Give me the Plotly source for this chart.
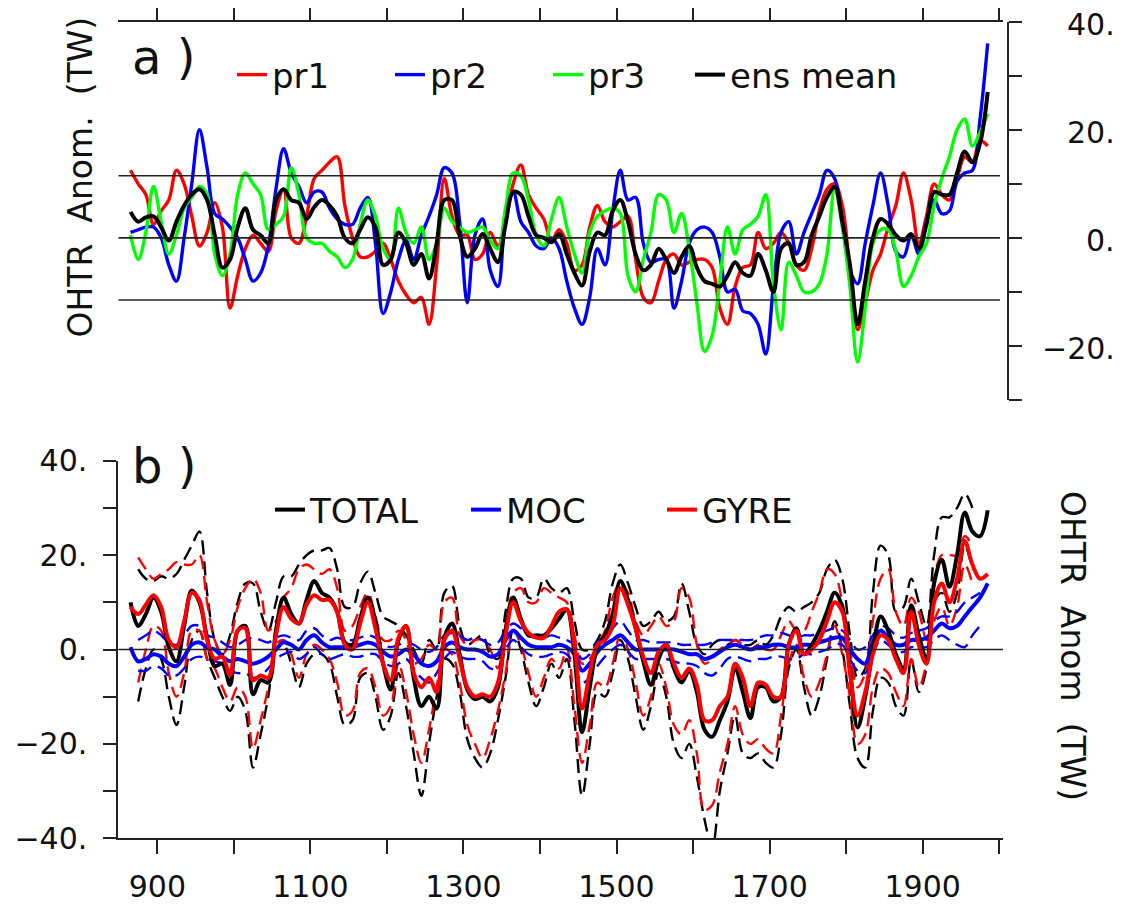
import plotly.graph_objects as go

# decadal sample years shared by all series
years = list(range(865, 1986, 10))

# ---- panel a: OHTR anomaly (TW) of the three runs and ensemble mean
pr1 = [12.5, 10, 8, 2.5, 5, 7, 12.5, 10, 4, -1.5,
       1, 6.5, 2, -13, -7, -2, 0.5, -1, -2.5, 5,
       9, 0, -1, 4, 11, 12.5, 14, 15, 6, 0,
       -3.5, -3.5, -2.5, -1, -4, -8, -10.5, -12, -11, -16,
       -5, 11, 4, 0.5, 0.5, -4, -3, 1, -1.5, 3,
       10, 13.5, 8, 5.5, 3.5, -0.5, 1.5, -1, -6, -5,
       2, 6, 3, 2, 3, 4, -4, -11, -12, -8,
       -4, -3, -5, -4.5, -4, -4, -5.5, -13, -16, -9,
       -5.5, -5, 1, -2, -1, 1, -1, -5, -6, -2,
       5, 9, 10, 6, -6, -17, -12, -6, -3, 2,
       6, 12, 7, -1, 4, 10, 8, 7, 11, 15,
       14, 18, 17]
pr2 = [1, 1.5, 2, 2, 0, -5, -8, 0, 10, 20,
       13, 4.5, 3.5, 2, 0, -4, -8, -6.5, -1.5, 9,
       16.5, 12, 9.5, 6.5, 8.5, 8.5, 5.5, 3.5, 2.5, 2.5,
       5.5, 7.5, -1, -14, -10, -4, -0.5, -4, 0.5, 4,
       8, 13, 12, 3, -12, 0.5, 3.5, -6, -9, 4,
       8.5, 3, 1, -1.5, -2, 0, -2, -8, -13, -16,
       -11, -2, -5, 5, 12.5, 7, 7.5, -1, -4.5, -4,
       -4, -13, -8, -1, 1.5, 2, 1, -3.5, -10, -9.5,
       -13.5, -14, -16, -21.5, -9, 1, 3, -3, 1, 4.5,
       8, 12.5, 11, 3, -6, -8.5, -1, 6, 12, 6,
       -2.5, -3.5, 0.5, -3, 3, 7, 4.5, 5, 10.5, 12,
       12.5, 22, 36]
pr3 = [0.5, -4, 1, 9.5, 3, -3, 0.5, 5.5, 7.5, 9.5,
       8, -3, -7, -3, 8, 12, 10, 8, 1.5, 2.5,
       4, 13, 8, 0, -1, -1, -2.5, -3.5, -5.5, -4,
       2.5, 7, 4, -2, -4, 5.5, 1, -1, 2, -4,
       -1, 5.5, 3, 2, 1, 1.5, 2, -0.5, -2, 5.5,
       12, 11.5, 7, 0.5, -1.5, 3.5, 7.5, 2, -3, -6.5,
       1, 4, 5, 5.5, 4.5, -7, -10, -4, 1, 8,
       7, 1, 4.5, -2, -12, -21, -18, -8, 2, -3,
       1.5, 2.5, 4, 8, -8.5, -17, -4.5, -7, -10, -10,
       -8.5, -3, 9, 2, -9, -23, -13, -1, 1.5, 1.5,
       -2.5, -9, -7, -3.5, -1, 6, 11, 15, 20, 22,
       17, 19.5, 23]
ens_mean = [4.8, 3, 3.8, 4, 2, -0.5, 3, 6, 8, 9,
            7, 0.5, -5.5, -4, 2, 5.5, 1.5, 0.5, -1, 7,
            9, 7, 6.5, 3.5, 5.7, 7, 6, 4, 0, -1,
            1.5, 3.8, 2, -5, -4, 1, -1, -5, -3, -7.5,
            -1, 7, 7, 0.5, -3.5, -2, 0.7, -2, -4.5, 2.5,
            8.5, 8, 4, 0.5, 0, -0.8, 0.7, -3, -6.5, -8.8,
            -2.5, 1, 0.5, 5, 7, 3, -3, -6, -5, -2,
            -4, -6.5, -3.5, -1.5, -5.5, -8, -8.5, -9, -7, -4.5,
            -6.5, -7, -3, -6, -10, -2, -1, -5, -4.5, 0.5,
            4, 7.5, 9.4, 3, -5, -16, -8, 0, 3.5, 2.5,
            0.5, -0.5, 0.7, -2, 2.5, 8.5, 8, 8, 12, 16,
            14, 17.5, 27]

# ---- panel b: TOTAL / MOC / GYRE components with their spread
total = [10, 5, 7.5, 11, 8, 0.5, -2.5, 5, 12.5, 10,
         2.5, -3.5, -3, -7.5, 4, 5, -9.5, -6.5, -7, 4,
         11, 7.5, 5.5, 10.5, 14.5, 12, 11, 8, 1.5, 1,
         6.5, 11, 6, -3, -8.5, 2, 5, -6, -12, -10,
         -12.5, 2.5, 5.5, -1, -8.5, -10.5, -10, -11, -8, 4,
         11, 6.5, 3, 3, 3, 4.5, 6.5, 8.5, -1, -17.5,
         -8, 0.5, 3, 7.5, 14.5, 10.5, 4.5, -2.5, -7.5, -2,
         1, -4, -7, -4.5, -9, -17, -18.5, -15, -11, -4,
         -9, -14.5, -8, -8, -11, -10, 1, 4.5, -1, 1,
         4, 8, 12, 9, -4, -16.5, -10, 0, 7, 4,
         -1, -4, 9.4, 3, -2, 14, 19, 13.3, 20, 29,
         25, 24, 29.5]
total_hi = [None, 17, 15, 14.5, 15.5, 15, 16, 19, 22, 25,
            12, 2, -1, 3, 10, 14, 14, 8, 4, 10,
            15.5, 15.5, 18, 20, 21, 21, 21.5, 17, 9, 9,
            14, 16.5, 12, 7, 6, 5, 3, 0, -3, 2,
            0, 12, 13.5, 5, 1, 2, 3, -1, -2, 8,
            15, 15, 11, 11, 15, 13, 12, 13, 6, 0,
            0, 2, 6, 14, 18, 14, 9, 5, 6, 8,
            6, 7, 14, 8, 1, -1, 1, 2, 1, 2,
            1, 1, 2, 1, 3, 7, 9, 8, 9, 10,
            12, 17, 19, 15, 3, -6, -4, 12, 22, 20,
            8, 9, 15, 10, 5, 20, 28, 28, 30, 33,
            30, None, None]
total_lo = [None, -11, -4, 0, -2, -10, -16, -8, 2, 4,
            -2, -6, -10, -13, -10, -13, -25, -18, -10, 0,
            1, -3, -8, -3, -1, -1, -3, -10, -16, -15,
            -6, -5, -10, -17, -14, -5, -12, -22, -31, -20,
            -10, -2, -3, -9, -19, -23, -25, -22, -15, -6,
            4, 0, -7, -12, -8, -3, -6, -2, -15, -31,
            -20, -9, -10, -5, 2, -2, -10, -17, -12, -5,
            -10, -20, -23, -20, -27, -36, -42, -30, -22, -14,
            -22, -23, -22, -24, -25, -18, -4, 0, -8, -14,
            -10, -2, 6, 0, -12, -23, -25, -13, -6, -7,
            -12, -14, -2, -9, -4, 10, 12, 8, 12, 22,
            17, None, None]
moc = [0.5, -2.5, -2, -1, -1.5, -3, -3.5, -1.5, 1, 1.5,
       0.5, 0, -1.5, -2.5, -2, -2.5, -3, -2.5, -1.5, 0,
       1.5, 1, 0, 2, 3, 1.5, 0.5, 0.5, 0.5, 0.5,
       1, 1.5, 1, -0.5, -1.5, -1, 0, -1, -3, -3.5,
       -2.5, 0.5, 1.5, 0.5, 0, 0, -0.5, -1.5, -1, 2,
       4, 2.5, 1, 0.5, 0.5, 0.5, 1, 0.5, -1, -4.5,
       -3, -0.5, 1, 2, 3, 1.5, 0, 0, 0, 0,
       0, 0, -0.5, -1, -1, -2, -1.5, -0.5, 0.5, 1,
       0.5, 0, 0.5, 0.5, 1, 1, 0.5, 0.5, 1, 1,
       1.5, 2, 2.5, 2.5, 0, -2, -3, 1.5, 4, 2.5,
       1, 1, 2, 2, 2.5, 4, 5.5, 4.5, 5, 7,
       9, 11, 14]
moc_hi = [None, 2, 3, 4, 3, 1.5, 1, 3, 5, 5,
          3, 2.5, 1.5, 0.5, 1, 2, 2.5, 2, 1.5, 2.5,
          3, 2.5, 2, 4, 4.5, 3, 2, 2.5, 2, 2,
          2.5, 3, 2.5, 1, 0.5, 1, 1.5, 1, 0, -0.5,
          0.5, 3, 3.5, 3, 2, 2.5, 2, 1, 1.5, 4,
          5.5, 4.5, 3, 2.5, 2.5, 3, 2.5, 2, 1, -2,
          -1, 1.5, 3, 4.5, 6, 4, 2, 2, 1.5, 1.5,
          1.5, 1.5, 1, 1, 1, 1, 1.5, 2, 2, 2,
          2, 2, 2.5, 3, 3, 3.5, 3, 2.5, 3, 3,
          3.5, 4, 4.5, 4, 2, 0, 0.5, 3, 5, 4.5,
          3, 2.5, 3.5, 4, 4.5, 6, 7, 7, 8, 10,
          11, 12, None]
moc_lo = [None, -4.5, -4.5, -3.5, -4, -5.5, -5.5, -4, -2, -1.5,
          -2, -2.5, -3, -4.5, -5, -5, -6, -5.5, -4, -2,
          -1, -0.5, -2, -1, 0.5, -1, -2, -1.5, -1, -1.5,
          -1.5, -1, -1, -2.5, -3.5, -3, -2, -4, -6, -7,
          -5, -2, -0.5, -1.5, -2, -2, -2.5, -4, -4, 0,
          2, 0.5, -1, -1.5, -1.5, -1, -0.5, -1, -3.5, -7,
          -6, -3.5, -1.5, 0, 1, -0.5, -2, -2, -2, -2,
          -2, -2.5, -3, -3, -3.5, -5, -5.5, -4, -2, -1.5,
          -2, -2.5, -2, -2, -1.5, -1.5, -2, -2, -1, -1,
          -0.5, 0, 1, 1, -2, -4.5, -5, -1, 2, 1,
          -0.5, -0.5, 0.5, 0.5, 0.5, 2, 3, 2, 1, 0.5,
          3, 5, None]
gyre = [9, 7.5, 9.5, 11.5, 9, 2, 0.5, 6, 12, 10.5,
        2, -2, -1.5, -5.5, 4, 4.5, -6.5, -5.5, -6, 3,
        9, 6.5, 5.5, 9.5, 11.5, 10.5, 10.5, 8, 1, 0,
        5.5, 10, 4.5, -3, -6.5, 2.5, 5, -5, -8, -6,
        -9, 2, 4, -2, -8, -10, -9.5, -10, -7, 3,
        10, 6, 3.5, 2.5, 2.5, 5, 8, 8.5, 1, -12.5,
        -5, 1, 2, 5, 13, 9.5, 4.5, -1.5, -5, -0.5,
        1, -3, -6, -4, -7.5, -15, -15, -12, -10, -3,
        -6, -12, -7, -7.5, -10, -10, 1, 4, -1, 0,
        2, 6, 10, 8, -5, -14, -9, -1, 3, 2,
        -2, -5, 8, 1, -3, 10, 14, 10, 15, 23,
        18, 15, 16]
gyre_hi = [None, 19.5, 17, 15, 16, 17, 18.5, 18, 18, 20,
           10, 2, -1, 2, 9, 13, 15, 12, 4, 6,
           11, 13, 17, 18, 17, 16, 17, 13, 4, 5,
           9, 12, 7, 2, 2, 4, 2, -3, -2, 1,
           0, 10, 11, 3, 1, 2, 2, 0, -4, 5,
           12, 13, 10, 10, 13, 12, 11, 10, 3, -3,
           -2, 1, 4, 11, 14, 12, 6, 3, 5, 7,
           5, 6, 13, 11, 1, -3, -2, 0, 1, 2,
           1, 0, 1, 0, 0, 3, 6, 4, 4, 8,
           12, 17, 16, 10, 0, -8, -5, 6, 15, 17,
           8, 5, 11, 8, 2, 15, 20, 20, 20, 24,
           22, None, None]
gyre_lo = [None, -7, 0, 5, 4, -5, -10, -5, 4, 4,
           -2, -4, -8, -11, -8, -10, -21, -15, -8, 1,
           2, -1, -6, -1, 1, 0, -2, -7, -14, -13,
           -5, -4, -8, -14, -12, -3, -9, -18, -24, -17,
           -8, 0, -1, -7, -16, -20, -23, -19, -13, -5,
           4, 1, -5, -10, -6, -2, -4, 0, -12, -24,
           -16, -7, -8, -3, 3, 0, -7, -14, -10, -3,
           -8, -16, -18, -15, -22, -34, -33, -26, -20, -12,
           -18, -20, -19, -21, -22, -14, -3, 1, -6, -10,
           -7, -1, 5, -1, -10, -20, -18, -8, -4, -5,
           -9, -12, -2, -8, -3, 6, 9, 5, 9, 18,
           14, None, None]

for s in [pr1, pr2, pr3, ens_mean, total, total_hi, total_lo,
          moc, moc_hi, moc_lo, gyre, gyre_hi, gyre_lo]:
    assert len(s) == len(years), len(s)

RED, BLUE, GREEN, BLACK = 'rgb(255,0,0)', 'rgb(0,0,255)', 'rgb(0,255,0)', 'black'
AX = '#222222'
FONT = 'DejaVu Sans'

# the page body has an 8px margin, so the figure is 8px smaller and
# every screen position below is shifted by that amount
OFF = 8
FW, FH = 1126 - OFF, 905 - OFF


def px(x):
    return (x - OFF) / FW


def py(y):
    return 1 - (y - OFF) / FH


fig = go.Figure()

# panel a
for name, vals, col, w, lg in [('pr1', pr1, RED, 3.4, 'legend'), ('pr2', pr2, BLUE, 3.4, 'legend'),
                               ('pr3', pr3, GREEN, 3.4, 'legend'),
                               ('ens mean', ens_mean, BLACK, 4, 'legend3')]:
    fig.add_trace(go.Scatter(x=years, y=vals, mode='lines', name=name,
                             line=dict(color=col, width=w, shape='spline', smoothing=1),
                             xaxis='x', yaxis='y', legend=lg))

# panel b: spread lines first, then the components
for vals, col in [(total_hi, BLACK), (total_lo, BLACK), (gyre_hi, RED), (gyre_lo, RED),
                  (moc_hi, BLUE), (moc_lo, BLUE)]:
    fig.add_trace(go.Scatter(x=years, y=vals, mode='lines', showlegend=False,
                             line=dict(color=col, width=2.4, dash='14px,7px', shape='spline'),
                             xaxis='x2', yaxis='y2'))
for name, vals, col, rank in [('MOC', moc, BLUE, 2), ('TOTAL', total, BLACK, 1), ('GYRE', gyre, RED, 3)]:
    fig.add_trace(go.Scatter(x=years, y=vals, mode='lines', name=name, legendrank=rank,
                             line=dict(color=col, width=4, shape='spline'),
                             xaxis='x2', yaxis='y2', legend='legend2'))

xdom = [px(118.3), px(1003)]
tick_years = list(range(900, 2001, 100))

common_ax = dict(showline=True, linecolor=AX, linewidth=2, ticks='outside', tickcolor=AX,
                 tickwidth=2, showgrid=False, zeroline=False, automargin=False)
leg = dict(orientation='h', yanchor='middle', xanchor='left', bgcolor='rgba(0,0,0,0)',
           font=dict(size=34, family=FONT))

fig.update_layout(
    template='none',
    width=FW, height=FH, margin=dict(l=0, r=0, t=0, b=0, pad=0),
    paper_bgcolor='white', plot_bgcolor='white',
    font=dict(family=FONT, size=30, color='#111111'),
    xaxis=dict(domain=xdom, range=[849, 2005], anchor='y', side='top', ticklen=14,
               tickvals=tick_years, showticklabels=False, **common_ax),
    yaxis=dict(domain=[py(400), py(21.7)], range=[-30, 40], anchor='free',
               position=px(1008.3), side='right', ticklen=13,
               tickvals=list(range(-30, 41, 10)), showticklabels=False, **common_ax),
    xaxis2=dict(domain=xdom, range=[849, 2005], anchor='y2', side='bottom', ticklen=14,
                tickvals=tick_years,
                ticktext=[str(y) if y % 200 == 100 else '' for y in tick_years],
                ticklabelstandoff=7, **common_ax),
    yaxis2=dict(domain=[py(838.3), py(460.7)], range=[-40, 40], anchor='x2',
                side='left', ticklen=13, tickvals=list(range(-40, 41, 10)),
                ticktext=[('\u2212' if v < 0 else '') + f'{abs(v)}.' if v % 20 == 0 else ''
                          for v in range(-40, 41, 10)],
                ticklabelstandoff=10, **common_ax),
    legend=dict(x=px(232), y=py(75), entrywidth=113, entrywidthmode='pixels', **leg),
    legend3=dict(x=px(690), y=py(75), **leg),
    legend2=dict(x=px(270), y=py(510), entrywidth=151, entrywidthmode='pixels', **leg),
)

# reference lines
for yv in [11.5, 0, -11.5]:
    fig.add_shape(type='line', xref='x', yref='y', x0=849, x1=2001, y0=yv, y1=yv,
                  line=dict(color=AX, width=1.6))
fig.add_shape(type='line', xref='x2 domain', yref='y2', x0=0, x1=1, y0=0, y1=0,
              line=dict(color=AX, width=1.6))

# right-hand tick labels of panel a (right aligned)
for v in [40, 20, 0, -20]:
    fig.add_annotation(x=px(1117), xref='paper', xanchor='right', y=v, yref='y',
                       yanchor='middle', yshift=-3,
                       text=('\u2212' if v < 0 else '') + f'{abs(v)}.',
                       showarrow=False, font=dict(size=30))

for txt, x, y, ang, size in [('OHTR  Anom.  (TW)', 80, 177.5, -90, 33),
                             ('OHTR  Anom  (TW)', 1073, 646, 90, 33),
                             ('a )', 163, 57, 0, 48),
                             ('b )', 164, 466, 0, 48)]:
    fig.add_annotation(x=px(x), y=py(y), xref='paper', yref='paper', showarrow=False,
                       xanchor='center', yanchor='middle', text=txt, textangle=ang,
                       font=dict(size=size))

fig.write_html('out.html')
